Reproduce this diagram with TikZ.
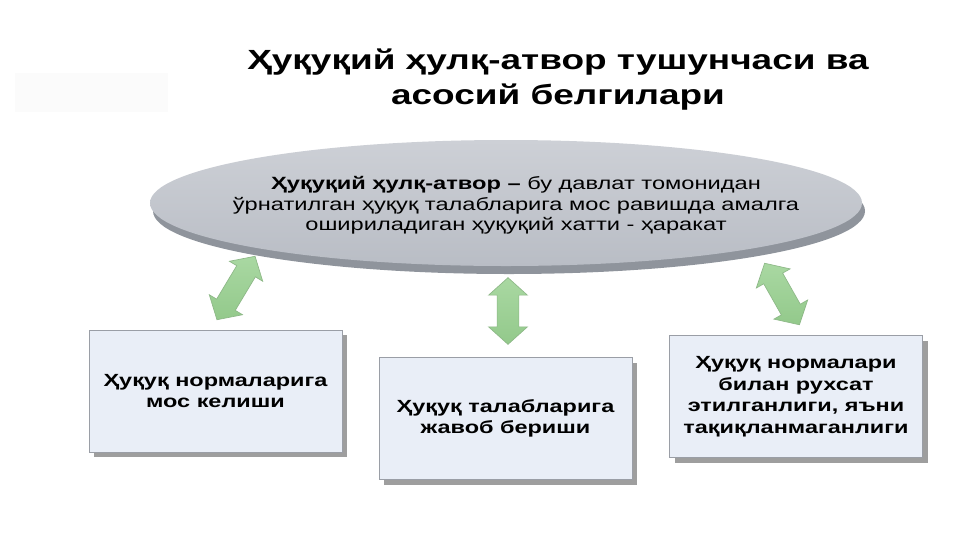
\documentclass[tikz,border=0pt]{standalone}
\usepackage{fontspec}
\setmainfont{Liberation Sans}[FakeStretch=1.333]
\usetikzlibrary{shapes.geometric,shapes.arrows}
\definecolor{boxfill}{HTML}{E9EEF7}
\definecolor{boxline}{HTML}{9A9EA6}
\definecolor{elltop}{HTML}{CDD0D6}
\definecolor{ellbot}{HTML}{B9BDC5}
\definecolor{ellband}{HTML}{8F949C}
\definecolor{arrA}{HTML}{A9D8A2}
\definecolor{arrB}{HTML}{DDF1D8}
\definecolor{arrC}{HTML}{93C98B}
\definecolor{arrline}{HTML}{8DB887}
\begin{document}
\begin{tikzpicture}[x=0.75pt,y=-0.75pt,
  infobox/.style={draw=boxline, line width=0.6pt, fill=boxfill, minimum width=189.75pt, minimum height=91.5pt, align=center, inner sep=0pt, font=\bfseries\fontsize{13.2}{16.1}\selectfont},
  boxshadow/.style={fill=black!38, draw=none, minimum width=189.75pt, minimum height=91.5pt, inner sep=0pt},
  dblarrow/.style={double arrow, draw=arrline, line width=0.5pt, top color=arrA, middle color=arrB, bottom color=arrC, double arrow head extend=6.4pt, double arrow tip angle=96, minimum width=28.5pt, inner xsep=0pt, inner ysep=7.9pt}
]
\useasboundingbox (0,0) rectangle (961,540);
\fill[white] (0,0) rectangle (961,540);
% faint decorative rectangle
\fill[black!1.5] (15,73) rectangle (168,112);
% title
\node[font=\bfseries\fontsize{20.8}{26.3}\selectfont, align=center] (title) at (558,80) {Ҳуқуқий ҳулқ-атвор тушунчаси ва\\асосий белгилари};
% definition ellipse with 3D band
\node[ellipse, fill=ellband, minimum width=534pt, minimum height=94.5pt, inner sep=0pt] (band) at (509,211) {};
\node[ellipse, top color=elltop, bottom color=ellbot, draw=none, minimum width=534pt, minimum height=94.5pt, inner sep=0pt] (def) at (506,203) {};
\node[align=center, font=\fontsize{13.3}{15.4}\selectfont] (deftext) at (def.center) [xshift=7.5pt, yshift=-2pt] {\textbf{Ҳуқуқий ҳулқ-атвор –} бу давлат томонидан\\ўрнатилган ҳуқуқ талабларига мос равишда амалга\\ошириладиган ҳуқуқий хатти - ҳаракат};
% boxes with shadows
\node[boxshadow] at (220.5,396) {};
\node[boxshadow] at (510.5,423.5) {};
\node[boxshadow] at (801,401.5) {};
\node[infobox] (b1) at (215.5,391) {Ҳуқуқ нормаларига\\мос келиши};
\node[infobox] (b2) at (505.5,418.5) {Ҳуқуқ талабларига\\жавоб бериши};
\node[infobox] (b3) at (796,396.5) {Ҳуқуқ нормалари\\билан рухсат\\этилганлиги, яъни\\тақиқланмаганлиги};
% double arrows
\node[dblarrow, minimum height=55.5pt, rotate=59] (a1) at (236,288) {};
\node[dblarrow, minimum height=50pt, rotate=90] (a2) at (508,311) {};
\node[dblarrow, minimum height=53pt, rotate=119.5] (a3) at (782,294) {};
\end{tikzpicture}
\end{document}
